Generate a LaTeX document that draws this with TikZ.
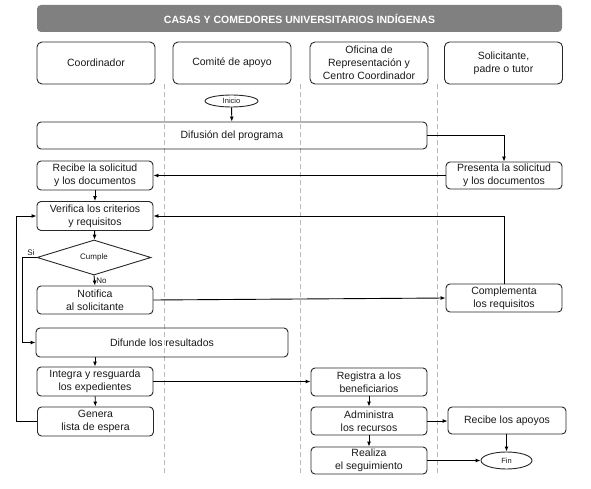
\documentclass[tikz,border=0pt]{standalone}
\usepackage{fontspec}
\setmainfont{Liberation Sans}
\usetikzlibrary{shapes.geometric,arrows.meta,positioning,calc}

\begin{document}
\begin{tikzpicture}[x=1pt,y=-1pt,>={Latex[length=5pt,width=4pt]},line width=0.9pt]
	\definecolor{titlecolor}{RGB}{128,128,128}
	\definecolor{linecolor}{RGB}{40,40,40}
	\definecolor{lanecolor}{RGB}{185,185,185}
	\tikzstyle{every node}=[font=\fontsize{10.5}{13}\selectfont, text=black!90]
	\tikzstyle{actor}=[rectangle, rounded corners=5pt, draw=linecolor, minimum width=118pt, minimum height=42pt, align=center, inner sep=1pt]
	\tikzstyle{task}=[rectangle, rounded corners=4pt, draw=linecolor, minimum width=116pt, minimum height=28pt, align=center, inner sep=1pt]
	\tikzstyle{terminal}=[ellipse, draw=linecolor, font=\fontsize{7.5}{9}\selectfont, inner sep=0pt]
	\tikzstyle{decision}=[diamond, draw=linecolor, font=\fontsize{8}{9}\selectfont, inner sep=0pt, minimum width=114pt, minimum height=31pt]
	\tikzstyle{tag}=[font=\fontsize{8}{9}\selectfont, inner sep=1.5pt]
	\tikzstyle{flow}=[->, draw=black]
	\tikzstyle{lane}=[draw=lanecolor, line width=0.6pt, dash pattern=on 5pt off 3pt]
	\def\rowy{63}

	\useasboundingbox (0,0) rectangle (591,489);

	% Draw the title bar
	\node[fill=titlecolor, rounded corners=4pt, minimum width=525pt, minimum height=27pt, text=white, font=\fontsize{10.5}{12}\selectfont\bfseries] (title) at (299.5,18.5) {CASAS Y COMEDORES UNIVERSITARIOS INDÍGENAS};
	% Draw the header of every lane
	\foreach \name/\x/\txt in {coord/96/Coordinador, comite/232/{Comité de apoyo}, oficina/369/{Oficina de\\Representación y\\Centro Coordinador}, solic/503.5/{Solicitante,\\padre o tutor}}
	\node[actor] (\name) at (\x,\rowy) {\txt};
	% Draw the lane separators
	\foreach \x in {164,300,437}
	\draw[lane] (\x,84) -- (\x,475);

	% Draw the steps
	\node[terminal, minimum width=53pt, minimum height=12pt] (inicio) at (231.5,101) {Inicio};
	\node[task, minimum width=390pt, minimum height=27pt] (difusion) at (232,135.5) {Difusión del programa};
	\node[task, minimum height=29pt] (recibe) at (95,175.5) {Recibe la solicitud\\y los documentos};
	\node[task, minimum height=27pt] (presenta) at (504,175.5) {Presenta la solicitud\\y los documentos};
	\node[task, minimum height=29pt] (verifica) at (95,216) {Verifica los criterios\\y requisitos};
	\node[decision] (cumple) at (94,257.5) {Cumple};
	\node[task] (notifica) at (95,300) {Notifica\\al solicitante};
	\node[task] (complementa) at (504,298) {Complementa\\los requisitos};
	\node[task, minimum width=252pt, minimum height=29pt] (difunde) at (162,342.5) {Difunde los resultados};
	\node[task, minimum height=29pt] (integra) at (95,381.5) {Integra y resguarda\\los expedientes};
	\node[task, minimum height=29pt] (genera) at (95.5,421.5) {Genera\\lista de espera};
	\node[task] (registra) at (369,382) {Registra a los\\beneficiarios};
	\node[task] (administra) at (369,421) {Administra\\los recursos};
	\node[task, minimum height=27pt] (realiza) at (369,460.5) {Realiza\\el seguimiento};
	\node[task, minimum width=118pt, minimum height=27pt] (apoyos) at (507,420.5) {Recibe los apoyos};
	\node[terminal, minimum width=51pt, minimum height=17pt] (fin) at (506.5,460.5) {Fin};
	\node[tag, anchor=south east] (si) at (cumple.west) {Si};

	% Connect the steps
	\draw[flow] (inicio) -- (difusion);
	\draw[flow] (difusion.east) -| (presenta.north);
	\draw[flow] (presenta.west) -- (recibe.east);
	\draw[flow] (recibe) -- (verifica);
	\draw[flow] (complementa.north) |- (verifica.east);
	\draw[flow] (verifica) -- (cumple);
	\draw[flow] (cumple.south) -- node[tag, right] (no) {No} (notifica.north);
	\draw[flow] (notifica.east) -- (complementa.west);
	\draw[flow] (cumple.west) -- ++(-14,0) |- (difunde.west);
	\draw[flow] (difunde.south -| integra.north) -- (integra.north);
	\draw[flow] (integra) -- (genera);
	\draw[flow] (integra.east) -- (registra.west |- integra.east);
	\draw[flow] (genera.west) -- ++(-21,0) |- (verifica.west);
	\draw[flow] (registra) -- (administra);
	\draw[flow] (administra) -- (realiza);
	\draw[flow] (administra.east) -- (apoyos.west |- administra.east);
	\draw[flow] (apoyos.south -| fin.north) -- (fin.north);
	\draw[flow] (realiza.east) -- (fin.west);
\end{tikzpicture}
\end{document}
